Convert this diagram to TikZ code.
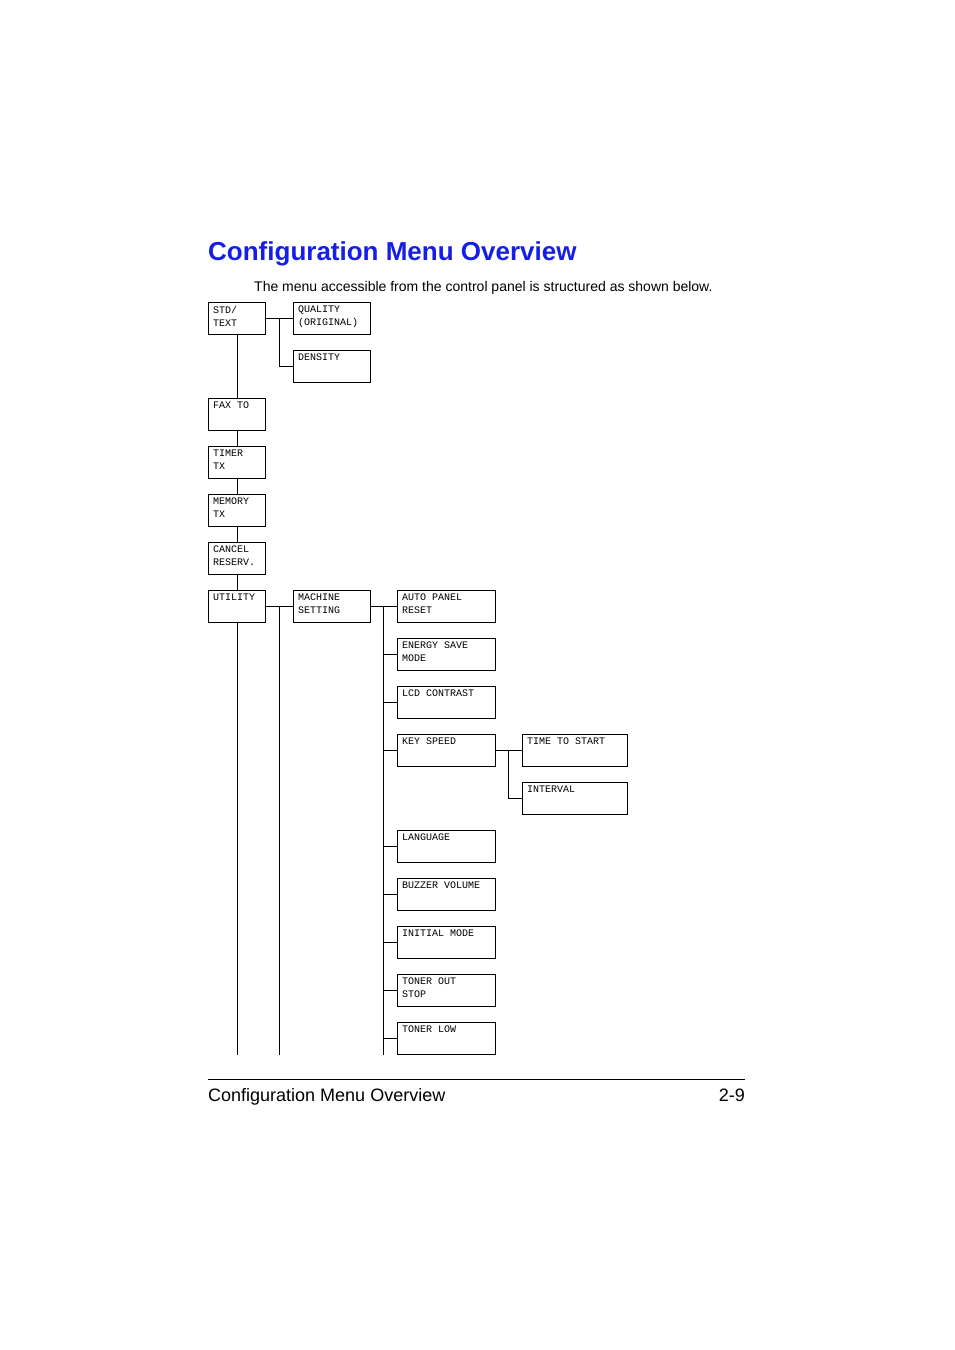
\documentclass[tikz,border=0pt]{standalone}
\usepackage{fontspec}
\setmainfont{Liberation Sans}
\newfontfamily\menufont{Liberation Mono}
\usepackage{xcolor}
\usetikzlibrary{positioning}
\definecolor{titleblue}{RGB}{20,30,230}
\tikzset{
  link/.style={semithick},
}
\newcommand{\menuitem}[5]{% name, x, y, width, text
  \draw[thick] (#2,#3) rectangle ++(#4,32);
  \coordinate (#1) at (#2,#3);
  \node[anchor=north west, align=left, inner sep=0pt, font=\menufont\fontsize{10}{13}\selectfont] (#1t) at (#2+5,#3+4) {#5};
}
\begin{document}
\begin{tikzpicture}[x=1pt,y=-1pt]
	\useasboundingbox (0,0) rectangle (954,1350);
	\node[anchor=base west, inner sep=0pt, font=\bfseries\fontsize{26}{30}\selectfont, text=titleblue] (title) at (208,260) {Configuration Menu Overview};
	\node[anchor=base west, inner sep=0pt, font=\fontsize{14}{16}\selectfont] (intro) at (254,291) {The menu accessible from the control panel is structured as shown below.};
	
	% first column
	\menuitem{std}{208}{302}{57}{STD/\\TEXT}
	\menuitem{fax}{208}{398}{57}{FAX TO}
	\menuitem{timer}{208}{446}{57}{TIMER\\TX}
	\menuitem{memory}{208}{494}{57}{MEMORY\\TX}
	\menuitem{cancel}{208}{542}{57}{CANCEL\\RESERV.}
	\menuitem{utility}{208}{590}{57}{UTILITY}
	
	% second column
	\menuitem{quality}{293}{302}{77}{QUALITY\\(ORIGINAL)}
	\menuitem{density}{293}{350}{77}{DENSITY}
	\menuitem{machine}{293}{590}{77}{MACHINE\\SETTING}
	
	% third column
	\menuitem{autopanel}{397}{590}{98}{AUTO PANEL\\RESET}
	\menuitem{energy}{397}{638}{98}{ENERGY SAVE\\MODE}
	\menuitem{lcd}{397}{686}{98}{LCD CONTRAST}
	\menuitem{key}{397}{734}{98}{KEY SPEED}
	\menuitem{language}{397}{830}{98}{LANGUAGE}
	\menuitem{buzzer}{397}{878}{98}{BUZZER VOLUME}
	\menuitem{initial}{397}{926}{98}{INITIAL MODE}
	\menuitem{tonerout}{397}{974}{98}{TONER OUT\\STOP}
	\menuitem{tonerlow}{397}{1022}{98}{TONER LOW}
	
	% fourth column
	\menuitem{timestart}{522}{734}{105}{TIME TO START}
	\menuitem{interval}{522}{782}{105}{INTERVAL}
	
	% connectors
	\draw[link] (237,334) -- (237,398);
	\foreach \y in {430,478,526,574} \draw[link] (237,\y) -- ++(0,16);
	\draw[link] (237,622) -- (237,1055);
	\draw[link] (265,318) -- (293,318);
	\draw[link] (279,318) |- (293,366);
	\draw[link] (265,606) -- (293,606);
	\draw[link] (279,606) -- (279,1055);
	\draw[link] (370,606) -- (397,606);
	\draw[link] (383,606) -- (383,1055);
	\foreach \y in {654,702,750,846,894,942,990,1038} \draw[link] (383,\y) -- (397,\y);
	\draw[link] (495,750) -- (522,750);
	\draw[link] (508,750) |- (522,798);
	
	% footer
	\draw[semithick] (208,1079) -- (745,1079);
	\node[anchor=base west, inner sep=0pt, font=\fontsize{18}{20}\selectfont] (foot) at (208,1101) {Configuration Menu Overview};
	\node[anchor=base east, inner sep=0pt, font=\fontsize{18}{20}\selectfont] (page) at (745,1101) {2-9};
\end{tikzpicture}
\end{document}
